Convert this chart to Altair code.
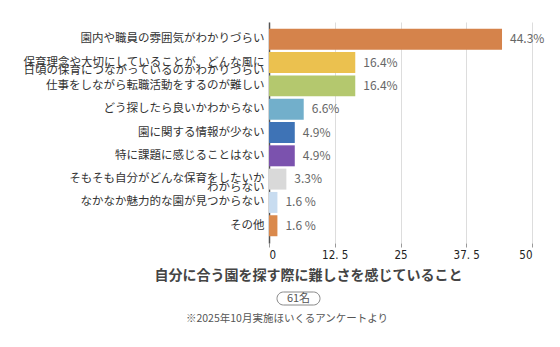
import altair as alt
import pandas as pd

categories = [
    "園内や職員の雰囲気がわかりづらい",
    "保育理念や大切にしていることが、どんな風に\n日頃の保育につながっているのかわかりづらい",
    "仕事をしながら転職活動をするのが難しい",
    "どう探したら良いかわからない",
    "園に関する情報が少ない",
    "特に課題に感じることはない",
    "そもそも自分がどんな保育をしたいか\nわからない",
    "なかなか魅力的な園が見つからない",
    "その他",
]
values = [44.3, 16.4, 16.4, 6.6, 4.9, 4.9, 3.3, 1.6, 1.6]
value_labels = ["44.3%", "16.4%", "16.4%", "6.6%", "4.9%", "4.9%", "3.3%", "1.6 %", "1.6 %"]
colors = ["#D5834B", "#EBC14F", "#B4C86E", "#72AFCB", "#3E73B6", "#7B52AE",
          "#D9D9D9", "#C8DCF0", "#DA894C"]
x_ticks = [0, 12.5, 25, 37.5, 50]
axis_title = "自分に合う園を探す際に難しさを感じていること"
count_label = "61名"
note = "※2025年10月実施ほいくるアンケートより"

FONT = "Noto Sans CJK JP"

df = pd.DataFrame({"cat": categories, "value": values, "label": value_labels})

y_enc = alt.Y(
    "cat:N",
    sort=categories,
    scale=alt.Scale(paddingInner=0.1, paddingOuter=0.29),
    axis=alt.Axis(
        title=None,
        labelExpr="split(datum.label, '\\n')",
        labelFont=FONT,
        labelFontSize=11.5,
        labelLineHeight=8.5,
        labelColor="#333",
        labelPadding=5,
        labelLimit=300,
        ticks=False,
        domainColor="#555",
        domainWidth=1.5,
        grid=False,
    ),
)

x_enc = alt.X(
    "value:Q",
    scale=alt.Scale(domain=[0, 50], nice=False),
    axis=alt.Axis(
        values=x_ticks,
        title=axis_title,
        titleFont=FONT,
        titleFontSize=14,
        titleFontWeight="bold",
        titleColor="#444",
        titleX=39,
        titleY=32,
        titleAnchor="middle",
        titleBaseline="middle",
        labelFont="DejaVu Sans Condensed",
        labelFontSize=11.5,
        labelColor="#222",
        labelPadding=2,
        labelExpr="datum.value == 12.5 ? '12. 5' : datum.value == 37.5 ? '37. 5' : datum.label",
        tickColor="#999",
        tickSize=4,
        domain=False,
        grid=True,
        gridColor="#DDDDDD",
        gridWidth=1,
    ),
)

bars = alt.Chart(df).mark_bar().encode(
    x=x_enc,
    y=y_enc,
    color=alt.Color("cat:N", scale=alt.Scale(domain=categories, range=colors), legend=None),
)

texts = alt.Chart(df).mark_text(
    align="left", baseline="middle", dx=8, font=FONT, fontSize=12, color="#666"
).encode(
    x="value:Q",
    y=alt.Y("cat:N", sort=categories),
    text="label:N",
)

ann = pd.DataFrame({"count": [count_label], "note": [note]})

pill = alt.Chart(ann).mark_rect(
    fill="white", stroke="#888", strokeWidth=1, cornerRadius=7
).encode(
    x=alt.value(8), x2=alt.value(51), y=alt.value(270), y2=alt.value(283)
)
pill_text = alt.Chart(ann).mark_text(
    font=FONT, fontSize=11, color="#555", baseline="middle", align="center"
).encode(x=alt.value(29.5), y=alt.value(277), text="count:N")
note_text = alt.Chart(ann).mark_text(
    font=FONT, fontSize=10.5, color="#555", baseline="middle", align="center"
).encode(x=alt.value(18), y=alt.value(297), text="note:N")

chart = alt.layer(bars, texts, pill, pill_text, note_text).properties(
    width=263,
    height=221,
    autosize=alt.AutoSizeParams(type="none"),
    padding={"left": 269, "top": 22, "right": 28, "bottom": 104},
    background="white",
).configure_view(stroke=None)

chart.save("out.html", embed_options={"renderer": "svg", "actions": False})
